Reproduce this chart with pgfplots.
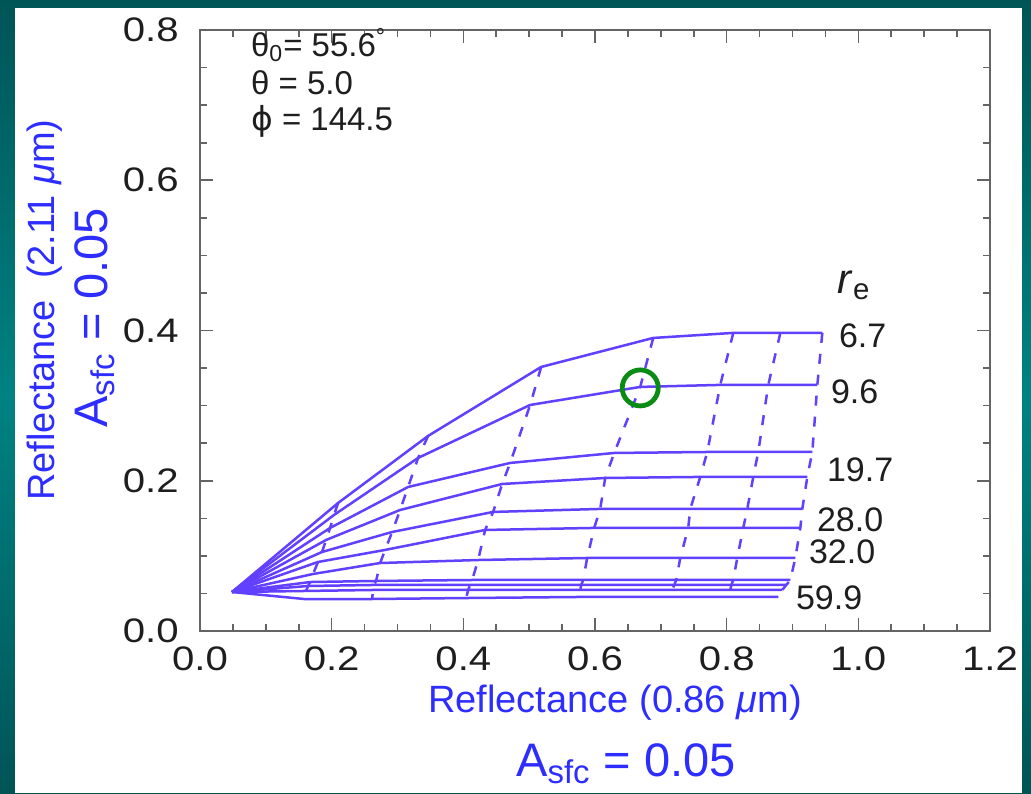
\documentclass[border=0pt]{standalone}
\usepackage{pgfplots}
\pgfplotsset{compat=1.18}
\usepackage{pgfplotstable}
\usepackage{fontspec}
\setmainfont{Liberation Sans}
\newfontfamily\dejavu{DejaVu Sans}
\definecolor{tealdark}{RGB}{0,84,86}
\definecolor{tealmid}{RGB}{0,130,130}
\definecolor{lut}{RGB}{98,64,255}
\definecolor{lab}{RGB}{45,45,255}
\definecolor{axgray}{RGB}{100,100,100}
\definecolor{circ}{RGB}{10,140,20}
\definecolor{txt}{RGB}{30,30,30}

% constant-r_e curves (solid), one block per curve, k = optical-thickness node
\pgfplotstableread{
c k x y
1 0 0.0486 0.0519
1 1 0.2097 0.1704
1 2 0.3465 0.2597
1 3 0.5182 0.3515
1 4 0.6884 0.3901
1 5 0.8100 0.3968
1 6 0.8815 0.3968
1 7 0.9453 0.3968
2 0 0.0486 0.0519
2 1 0.2036 0.1545
2 2 0.3313 0.2304
2 3 0.5015 0.3009
2 4 0.6687 0.3249
2 5 0.7903 0.3276
2 6 0.8632 0.3276
2 7 0.9377 0.3276
3 0 0.0486 0.0519
3 1 0.1976 0.1372
3 2 0.3161 0.1917
3 3 0.4711 0.2237
3 4 0.6292 0.2370
3 5 0.7705 0.2383
3 6 0.8480 0.2383
3 7 0.9301 0.2383
4 0 0.0486 0.0519
4 1 0.1915 0.1212
4 2 0.3040 0.1611
4 3 0.4590 0.1957
4 4 0.6155 0.2037
4 5 0.7599 0.2051
4 6 0.8404 0.2051
4 7 0.9225 0.2051
5 0 0.0486 0.0519
5 1 0.1854 0.1052
5 2 0.2918 0.1318
5 3 0.4453 0.1585
5 4 0.6079 0.1625
5 5 0.7447 0.1625
5 6 0.8313 0.1625
5 7 0.9149 0.1625
6 0 0.0486 0.0519
6 1 0.1793 0.0919
6 2 0.2812 0.1079
6 3 0.4331 0.1345
6 4 0.5988 0.1372
6 5 0.7416 0.1372
6 6 0.8252 0.1372
6 7 0.9119 0.1372
7 0 0.0486 0.0519
7 1 0.1717 0.0759
7 2 0.2736 0.0905
7 3 0.4225 0.0945
7 4 0.5881 0.0972
7 5 0.7295 0.0972
7 6 0.8161 0.0972
7 7 0.9043 0.0972
8 0 0.0486 0.0519
8 1 0.1672 0.0652
8 2 0.2675 0.0666
8 3 0.4134 0.0679
8 4 0.5821 0.0679
8 5 0.7234 0.0679
8 6 0.8100 0.0679
8 7 0.8967 0.0679
9 0 0.0486 0.0519
9 1 0.1641 0.0599
9 2 0.2644 0.0613
9 3 0.4103 0.0613
9 4 0.5790 0.0613
9 5 0.7204 0.0613
9 6 0.8070 0.0613
9 7 0.8906 0.0613
10 0 0.0486 0.0519
10 1 0.1611 0.0533
10 2 0.2629 0.0546
10 3 0.4073 0.0546
10 4 0.5775 0.0546
10 5 0.7173 0.0546
10 6 0.8055 0.0546
10 7 0.8845 0.0546
11 0 0.0486 0.0519
11 1 0.1581 0.0426
11 2 0.2614 0.0426
11 3 0.4043 0.0439
11 4 0.5760 0.0453
11 5 0.7143 0.0453
11 6 0.8040 0.0453
11 7 0.8784 0.0453
}\lut

% constant-tau lines (dashed): same nodes, one row per r_e curve
\pgfplotstableread{
c x1 y1 x2 y2 x3 y3 x4 y4 x5 y5 x6 y6 x7 y7
1 0.2097 0.1704 0.3465 0.2597 0.5182 0.3515 0.6884 0.3901 0.8100 0.3968 0.8815 0.3968 0.9453 0.3968
2 0.2036 0.1545 0.3313 0.2304 0.5015 0.3009 0.6687 0.3249 0.7903 0.3276 0.8632 0.3276 0.9377 0.3276
3 0.1976 0.1372 0.3161 0.1917 0.4711 0.2237 0.6292 0.2370 0.7705 0.2383 0.8480 0.2383 0.9301 0.2383
4 0.1915 0.1212 0.3040 0.1611 0.4590 0.1957 0.6155 0.2037 0.7599 0.2051 0.8404 0.2051 0.9225 0.2051
5 0.1854 0.1052 0.2918 0.1318 0.4453 0.1585 0.6079 0.1625 0.7447 0.1625 0.8313 0.1625 0.9149 0.1625
6 0.1793 0.0919 0.2812 0.1079 0.4331 0.1345 0.5988 0.1372 0.7416 0.1372 0.8252 0.1372 0.9119 0.1372
7 0.1717 0.0759 0.2736 0.0905 0.4225 0.0945 0.5881 0.0972 0.7295 0.0972 0.8161 0.0972 0.9043 0.0972
8 0.1672 0.0652 0.2675 0.0666 0.4134 0.0679 0.5821 0.0679 0.7234 0.0679 0.8100 0.0679 0.8967 0.0679
9 0.1641 0.0599 0.2644 0.0613 0.4103 0.0613 0.5790 0.0613 0.7204 0.0613 0.8070 0.0613 0.8906 0.0613
10 0.1611 0.0533 0.2629 0.0546 0.4073 0.0546 0.5775 0.0546 0.7173 0.0546 0.8055 0.0546 0.8845 0.0546
11 0.1581 0.0426 0.2614 0.0426 0.4043 0.0439 0.5760 0.0453 0.7143 0.0453 0.8040 0.0453 0.8784 0.0453
}\taus

\begin{document}
\begin{tikzpicture}
\shade[top color=tealdark, bottom color=tealdark, middle color=tealmid] (0pt,0pt) rectangle (515.5pt,396.5pt);
\fill[white] (7.5pt,0pt) rectangle (511pt,392.5pt);
\begin{axis}[
  at={(100pt,81pt)}, anchor=south west,
  scale only axis, width=395pt, height=300.5pt,
  xmin=0, xmax=1.2, ymin=0, ymax=0.8,
  xtick={0,0.2,0.4,0.6,0.8,1.0,1.2},
  ytick={0,0.2,0.4,0.6,0.8},
  minor x tick num=3, minor y tick num=3,
  tick align=inside,
  major tick length=6.5pt, minor tick length=3.5pt,
  axis line style={axgray, line width=0.8pt},
  every tick/.style={axgray, line width=0.8pt},
  /pgf/number format/assume math mode=true,
  /pgf/number format/.cd, fixed, fixed zerofill, precision=1,
  /pgfplots/.cd,
  tick label style={font=\fontsize{17}{19}\selectfont, text=txt, xscale=1.18},
  xticklabel style={inner sep=0pt, yshift=-7.5pt},
  yticklabel style={xshift=-5.5pt},
  clip=false,
]
\pgfplotsinvokeforeach{1,...,11}{
  \addplot[lut, line width=1.25pt, mark=none, restrict expr to domain={\thisrow{c}}{#1:#1}] table[x=x,y=y]{\lut};
}
\pgfplotsinvokeforeach{1,...,7}{
  \addplot[lut, line width=1.25pt, mark=none, dash pattern=on 5pt off 5.5pt] table[x=x#1,y=y#1]{\taus};
}
\addplot[only marks, mark=o, mark size=9pt, circ, line width=2.4pt] coordinates {(0.6687,0.3236)};
\end{axis}
\shade[top color=tealdark, bottom color=tealdark, middle color=tealmid] (511pt,0pt) rectangle (515.5pt,396.5pt);
% annotations
\begin{scope}[every node/.style={anchor=west, font=\fontsize{16.5}{18}\selectfont, text=txt}]
\node at (122pt,374pt) {θ\textsubscript{0}= 55.6\textsuperscript{°}};
\node at (122pt,355pt) {θ = 5.0};
\node at (122pt,336pt) {{\dejavu ϕ} = 144.5};
\end{scope}
\node[font=\fontsize{21}{23}\selectfont, text=txt] at (427pt,254pt) {\textit{r}\textsubscript{e}};
\begin{scope}[every node/.style={anchor=west, font=\fontsize{17}{19}\selectfont, text=txt}]
\node at (416pt,228.5pt) {6.7};
\node at (412pt,200.5pt) {9.6};
\node at (410pt,161.5pt) {19.7};
\node at (405pt,136.5pt) {28.0};
\node at (401pt,120.5pt) {32.0};
\node at (394.5pt,97.5pt) {59.9};
\end{scope}
% axis titles
\node[anchor=base, inner sep=0pt, font=\fontsize{19}{21}\selectfont, text=lab] at (307.5pt,40.5pt) {Reflectance (0.86 \textit{μ}m)};
\node[anchor=base, font=\fontsize{23.5}{26}\selectfont, text=lab] at (313pt,8.5pt) {A\textsubscript{sfc} = 0.05};
\node[anchor=base, rotate=90, font=\fontsize{19}{22}\selectfont, text=lab] at (27pt,241.5pt) {Reflectance\ \ (2.11 \textit{μ}m)};
\node[anchor=base, rotate=90, font=\fontsize{23.5}{26}\selectfont, text=lab] at (53.5pt,237.5pt) {A\textsubscript{sfc} = 0.05};
\pgfresetboundingbox
\path[use as bounding box] (0pt,0pt) rectangle (515.5pt,396.5pt);
\end{tikzpicture}
\end{document}
